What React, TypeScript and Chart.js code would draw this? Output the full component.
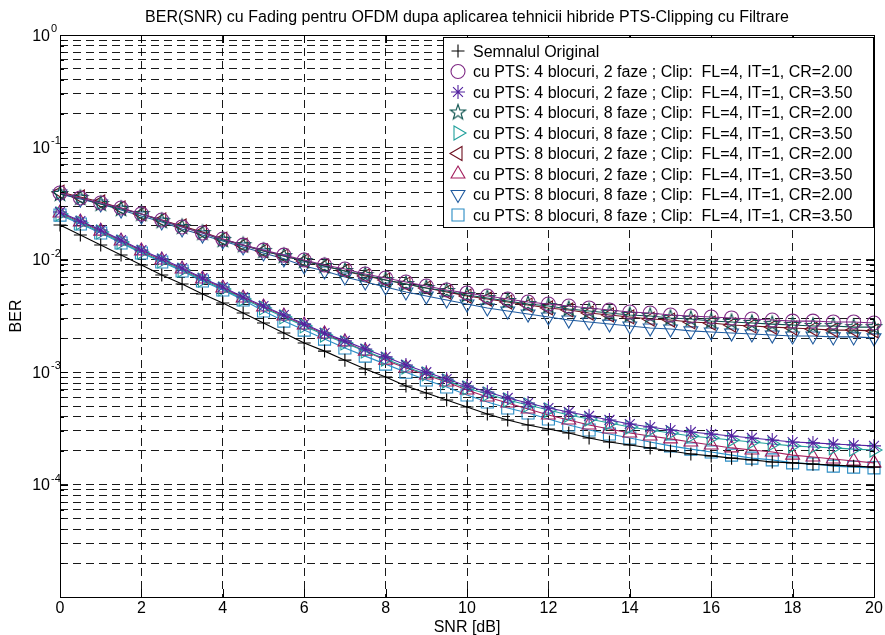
import React, { useEffect, useRef } from 'react';
import { Chart, registerables } from 'chart.js';
import { drawPoint } from 'chart.js/helpers';

Chart.register(...registerables);

// ---------------- DATA ----------------
const snrDb = [0, 0.5, 1, 1.5, 2, 2.5, 3, 3.5, 4, 4.5, 5, 5.5, 6, 6.5, 7, 7.5, 8, 8.5, 9, 9.5, 10,
  10.5, 11, 11.5, 12, 12.5, 13, 13.5, 14, 14.5, 15, 15.5, 16, 16.5, 17, 17.5, 18, 18.5, 19, 19.5, 20];

const berOriginal = [0.0204, 0.01662, 0.01354, 0.01103, 0.00899, 0.00732, 0.00609, 0.00496, 0.00413, 0.00336,
  0.00274, 0.00223, 0.00182, 0.00154, 0.00128, 0.00107, 0.000906, 0.000754, 0.000653, 0.000566,
  0.00049, 0.000425, 0.000376, 0.000339, 0.000312, 0.000288, 0.00026, 0.000239, 0.000225, 0.000212,
  0.000199, 0.000187, 0.00018, 0.000172, 0.000166, 0.000159, 0.000156, 0.000152, 0.000149, 0.000146, 0.000143];

const berPts4b2fCr200 = [0.0393, 0.0355, 0.032, 0.0289, 0.0256, 0.0226, 0.0196, 0.0173, 0.0153, 0.0135,
  0.0122, 0.011, 0.00996, 0.00899, 0.00828, 0.00748, 0.00689, 0.00635, 0.00585, 0.00539,
  0.00507, 0.00476, 0.00448, 0.00421, 0.00404, 0.00388, 0.00373, 0.00358, 0.00343, 0.00336,
  0.00323, 0.00316, 0.0031, 0.00304, 0.00297, 0.00291, 0.00285, 0.00285, 0.0028, 0.0028, 0.00274];

const berPts4b2fCr350 = [0.0266, 0.0221, 0.0184, 0.015, 0.0122, 0.0102, 0.00845, 0.00689, 0.00573, 0.00467,
  0.00388, 0.00323, 0.00268, 0.00223, 0.0019, 0.00161, 0.00137, 0.00116, 0.001, 0.00087,
  0.000754, 0.000667, 0.00059, 0.000532, 0.00048, 0.000443, 0.000408, 0.000376, 0.000346, 0.000325,
  0.000306, 0.000294, 0.000282, 0.000271, 0.00026, 0.000249, 0.000239, 0.000235, 0.00023, 0.000225, 0.000221];

const berPts4b8fCr200 = [0.0385, 0.0355, 0.0314, 0.0283, 0.0256, 0.0221, 0.0196, 0.0173, 0.015, 0.0135,
  0.012, 0.0108, 0.00976, 0.00881, 0.00795, 0.00732, 0.00661, 0.00609, 0.00561, 0.00528,
  0.00486, 0.00457, 0.0043, 0.00404, 0.00388, 0.00365, 0.0035, 0.00336, 0.00323, 0.00316,
  0.00304, 0.00297, 0.00285, 0.0028, 0.00274, 0.00268, 0.00263, 0.00258, 0.00258, 0.00252, 0.00252];

const berPts4b8fCr350 = [0.0256, 0.0213, 0.0177, 0.0144, 0.0117, 0.00976, 0.00811, 0.00661, 0.0055, 0.00448,
  0.00373, 0.0031, 0.00258, 0.00214, 0.00182, 0.00154, 0.00131, 0.00111, 0.000964, 0.000835,
  0.000724, 0.00064, 0.000566, 0.000511, 0.000461, 0.000416, 0.000383, 0.000353, 0.000325, 0.000306,
  0.000288, 0.000271, 0.00026, 0.000249, 0.000239, 0.00023, 0.000221, 0.000216, 0.000212, 0.000207, 0.000203];

const berPts8b2fCr200 = [0.0401, 0.0362, 0.0327, 0.0289, 0.0256, 0.0226, 0.02, 0.0177, 0.0153, 0.0135,
  0.012, 0.0108, 0.00976, 0.00881, 0.00795, 0.00718, 0.00661, 0.00609, 0.00561, 0.00517,
  0.00476, 0.00448, 0.00421, 0.00396, 0.00373, 0.00358, 0.00336, 0.00323, 0.0031, 0.00297,
  0.00291, 0.0028, 0.00274, 0.00263, 0.00258, 0.00252, 0.00247, 0.00242, 0.00237, 0.00237, 0.00233];

const berPts8b2fCr350 = [0.0261, 0.0217, 0.018, 0.0147, 0.012, 0.00996, 0.00828, 0.00675, 0.00561, 0.00457,
  0.0038, 0.00316, 0.00263, 0.00219, 0.00186, 0.00154, 0.00128, 0.00109, 0.000944, 0.000818,
  0.000694, 0.000602, 0.000532, 0.000471, 0.000416, 0.000376, 0.000339, 0.000312, 0.000288, 0.000271,
  0.000255, 0.000239, 0.000225, 0.000212, 0.000203, 0.000195, 0.000183, 0.000176, 0.000169, 0.000162, 0.000156];

const berPts8b8fCr200 = [0.0385, 0.0347, 0.0314, 0.0277, 0.0245, 0.0217, 0.0188, 0.0166, 0.0147, 0.013,
  0.0115, 0.0102, 0.00881, 0.00795, 0.00703, 0.00635, 0.00573, 0.00517, 0.00476, 0.00439,
  0.00404, 0.00373, 0.0035, 0.00329, 0.0031, 0.00291, 0.0028, 0.00268, 0.00258, 0.00247,
  0.00242, 0.00233, 0.00228, 0.00223, 0.00219, 0.00214, 0.0021, 0.0021, 0.00206, 0.00206, 0.00202];

const berPts8b8fCr350 = [0.025, 0.0208, 0.0173, 0.0141, 0.0115, 0.00956, 0.00795, 0.00648, 0.00539, 0.00439,
  0.0035, 0.00285, 0.00237, 0.00197, 0.00164, 0.00139, 0.00118, 0.001, 0.000852, 0.000738,
  0.000627, 0.000543, 0.00048, 0.000434, 0.000383, 0.000339, 0.000306, 0.000282, 0.00026, 0.000239,
  0.000221, 0.000207, 0.000195, 0.000183, 0.000172, 0.000166, 0.000156, 0.000153, 0.000146, 0.000143, 0.000141];

const seriesLabels = [
  'Semnalul Original',
  'cu PTS: 4 blocuri, 2 faze ; Clip:  FL=4, IT=1, CR=2.00',
  'cu PTS: 4 blocuri, 2 faze ; Clip:  FL=4, IT=1, CR=3.50',
  'cu PTS: 4 blocuri, 8 faze ; Clip:  FL=4, IT=1, CR=2.00',
  'cu PTS: 4 blocuri, 8 faze ; Clip:  FL=4, IT=1, CR=3.50',
  'cu PTS: 8 blocuri, 2 faze ; Clip:  FL=4, IT=1, CR=2.00',
  'cu PTS: 8 blocuri, 2 faze ; Clip:  FL=4, IT=1, CR=3.50',
  'cu PTS: 8 blocuri, 8 faze ; Clip:  FL=4, IT=1, CR=2.00',
  'cu PTS: 8 blocuri, 8 faze ; Clip:  FL=4, IT=1, CR=3.50',
];

const xTickValues = [0, 2, 4, 6, 8, 10, 12, 14, 16, 18, 20];
const yDecades = [1e-5, 1e-4, 1e-3, 1e-2, 1e-1, 1];
const yLabelledDecades = [1e-4, 1e-3, 1e-2, 1e-1, 1];
const yDecadeExponents = ['-4', '-3', '-2', '-1', '0'];
const yMinorMultipliers = [2, 3, 4, 5, 6, 7, 8, 9];

const titleText = 'BER(SNR) cu Fading pentru OFDM dupa aplicarea tehnicii hibride PTS-Clipping cu Filtrare';
const xTitle = 'SNR [dB]';
const yTitle = 'BER';

// ---------------- STYLE ----------------
const FONT = "'Liberation Sans', Arial, Helvetica, sans-serif";

function makePentagram(color: string, r: number): HTMLCanvasElement {
  const size = Math.ceil(r * 2 + 4);
  const c = document.createElement('canvas');
  c.width = size;
  c.height = size;
  const g = c.getContext('2d')!;
  const cx = size / 2, cy = size / 2;
  const inner = r * 0.4;
  g.beginPath();
  for (let i = 0; i < 10; i++) {
    const a = -Math.PI / 2 + (i * Math.PI) / 5;
    const rr = i % 2 === 0 ? r : inner;
    const px = cx + rr * Math.cos(a), py = cy + rr * Math.sin(a);
    if (i === 0) g.moveTo(px, py); else g.lineTo(px, py);
  }
  g.closePath();
  g.strokeStyle = color;
  g.lineWidth = 1.1;
  g.stroke();
  return c;
}

type SeriesStyle = { color: string; pointStyle: any; rotation: number; radius: number };

function buildStyles(): SeriesStyle[] {
  return [
    { color: '#000000', pointStyle: 'cross', rotation: 0, radius: 6.5 },
    { color: '#7F2A85', pointStyle: 'circle', rotation: 0, radius: 7 },
    { color: '#5322A0', pointStyle: 'star', rotation: 0, radius: 7 },
    { color: '#0B524D', pointStyle: makePentagram('#0B524D', 8), rotation: 0, radius: 8 },
    { color: '#22A09C', pointStyle: 'triangle', rotation: 90, radius: 8 },
    { color: '#6E1020', pointStyle: 'triangle', rotation: 270, radius: 8 },
    { color: '#A31D5C', pointStyle: 'triangle', rotation: 0, radius: 8 },
    { color: '#1F5A9E', pointStyle: 'triangle', rotation: 180, radius: 8 },
    { color: '#2A8CC4', pointStyle: 'rect', rotation: 0, radius: 8.5 },
  ];
}

const seriesData = [
  berOriginal, berPts4b2fCr200, berPts4b2fCr350, berPts4b8fCr200, berPts4b8fCr350,
  berPts8b2fCr200, berPts8b2fCr350, berPts8b8fCr200, berPts8b8fCr350,
];

const yTickValues: number[] = [];
yDecades.forEach((d, i) => {
  yTickValues.push(d);
  if (i < yDecades.length - 1) yMinorMultipliers.forEach((m) => yTickValues.push(d * m));
});

const decorPlugin = {
  id: 'matlabDecor',
  afterDraw(chart: any) {
    const { ctx, chartArea: a, scales } = chart;
    const xs = scales.x, ys = scales.y;
    ctx.save();
    ctx.strokeStyle = '#000';
    ctx.lineWidth = 1;
    // inner ticks
    ctx.beginPath();
    yTickValues.forEach((v) => {
      const y = Math.round(ys.getPixelForValue(v)) + 0.5;
      const major = yDecades.includes(v);
      const len = major ? 8 : 4;
      ctx.moveTo(a.left, y); ctx.lineTo(a.left + len, y);
      ctx.moveTo(a.right, y); ctx.lineTo(a.right - len, y);
    });
    xTickValues.forEach((v) => {
      const x = Math.round(xs.getPixelForValue(v)) + 0.5;
      ctx.moveTo(x, a.bottom); ctx.lineTo(x, a.bottom - 8);
      ctx.moveTo(x, a.top); ctx.lineTo(x, a.top + 8);
    });
    ctx.stroke();
    // box
    ctx.strokeRect(Math.round(a.left) + 0.5, Math.round(a.top) + 0.5,
      Math.round(a.right - a.left), Math.round(a.bottom - a.top));

    ctx.fillStyle = '#000';
    // y labels with superscripts
    yLabelledDecades.forEach((v, i) => {
      const y = ys.getPixelForValue(v);
      ctx.font = `16px ${FONT}`;
      ctx.textAlign = 'right';
      ctx.textBaseline = 'alphabetic';
      ctx.fillText('10', a.left - 10, y + 5.5);
      ctx.font = `11px ${FONT}`;
      ctx.textAlign = 'left';
      ctx.fillText(yDecadeExponents[i], a.left - 9, y - 3);
    });

    // title
    ctx.font = `16px ${FONT}`;
    ctx.textAlign = 'center';
    ctx.textBaseline = 'alphabetic';
    ctx.fillText(titleText, (a.left + a.right) / 2, 22);
    // x title
    ctx.fillText(xTitle, (a.left + a.right) / 2, 632);
    // y title
    ctx.save();
    ctx.translate(21, (a.top + a.bottom) / 2);
    ctx.rotate(-Math.PI / 2);
    ctx.fillText(yTitle, 0, 0);
    ctx.restore();

    // legend
    const lx = 443, ly = 37, lw = 430, lh = 190;
    ctx.fillStyle = '#fff';
    ctx.fillRect(lx, ly, lw, lh);
    ctx.strokeStyle = '#000';
    ctx.lineWidth = 1;
    ctx.strokeRect(lx + 0.5, ly + 0.5, lw, lh);
    chart.data.datasets.forEach((ds: any, i: number) => {
      const cy = 51 + i * 20.5;
      ctx.save();
      ctx.strokeStyle = ds.pointBorderColor;
      ctx.fillStyle = 'rgba(0,0,0,0)';
      ctx.lineWidth = 1.1;
      drawPoint(ctx, { pointStyle: ds.pointStyle, rotation: ds.pointRotation, radius: ds.pointRadius, borderWidth: 1.1 } as any, 458, cy);
      ctx.restore();
      ctx.fillStyle = '#000';
      ctx.font = `16px ${FONT}`;
      ctx.textAlign = 'left';
      ctx.textBaseline = 'alphabetic';
      ctx.fillText(ds.label, 473, cy + 5.7);
    });
    ctx.restore();
  },
};

export default function App() {
  const ref = useRef<HTMLCanvasElement>(null);
  useEffect(() => {
    const canvas = ref.current!;
    const styles = buildStyles();
    const datasets = seriesData.map((vals, si) => ({
      label: seriesLabels[si],
      data: vals.map((v, i) => ({ x: snrDb[i], y: v })),
      borderColor: styles[si].color,
      backgroundColor: 'rgba(0,0,0,0)',
      borderWidth: 1.1,
      pointStyle: styles[si].pointStyle,
      pointRotation: styles[si].rotation,
      pointRadius: styles[si].radius,
      pointBorderWidth: 1.1,
      pointBorderColor: styles[si].color,
      pointBackgroundColor: 'rgba(0,0,0,0)',
      tension: 0,
      clip: false,
    }));
    const chart = new Chart(canvas, {
      type: 'line',
      data: { datasets },
      plugins: [decorPlugin],
      options: {
        responsive: false,
        animation: false,
        devicePixelRatio: 1,
        layout: { padding: { left: 0, top: 35, right: 11, bottom: 0 } },
        plugins: { legend: { display: false }, title: { display: false }, tooltip: { enabled: false } },
        events: [],
        scales: {
          x: {
            type: 'linear',
            min: 0,
            max: 20,
            afterFit: (s: any) => { s.height = 38; },
            afterBuildTicks: (s: any) => { s.ticks = xTickValues.map((v) => ({ value: v })); },
            ticks: { font: { family: FONT, size: 16 }, color: '#000', padding: 2, maxRotation: 0, autoSkip: false },
            grid: { color: 'rgba(0,0,0,0.9)', lineWidth: 1, drawTicks: false },
            border: { display: false, dash: [8, 5] },
          },
          y: {
            type: 'logarithmic',
            min: 1e-5,
            max: 1,
            afterFit: (s: any) => { s.width = 60; },
            afterBuildTicks: (s: any) => { s.ticks = yTickValues.map((v) => ({ value: v, major: yDecades.includes(v) })); },
            ticks: { display: false, autoSkip: false },
            grid: { color: 'rgba(0,0,0,0.9)', lineWidth: 1, drawTicks: false },
            border: { display: false, dash: [8, 5] },
          },
        },
      } as any,
    });
    return () => chart.destroy();
  }, []);
  return (
    <div style={{ position: 'absolute', left: 0, top: 0, width: 885, height: 635, background: '#fff' }}>
      <canvas ref={ref} width={885} height={635} style={{ display: 'block', width: 885, height: 635 }} />
    </div>
  );
}
